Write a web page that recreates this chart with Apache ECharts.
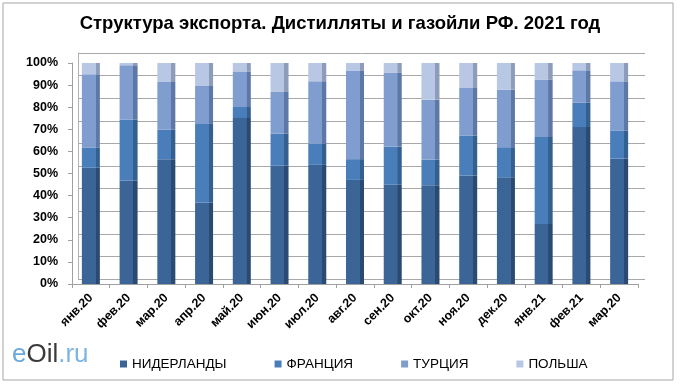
<!DOCTYPE html>
<html><head><meta charset="utf-8">
<script src="https://cdn.jsdelivr.net/npm/echarts@6/dist/echarts.min.js"></script>
<style>html,body{margin:0;padding:0;background:#fff}#c{width:680px;height:384px}</style>
</head><body><div id="c"></div>
<script>
var categories = ['янв.20','фев.20','мар.20','апр.20','май.20','июн.20','июл.20','авг.20','сен.20','окт.20','ноя.20','дек.20','янв.21','фев.21','мар.20'];
var seriesNames = ['НИДЕРЛАНДЫ','ФРАНЦИЯ','ТУРЦИЯ','ПОЛЬША'];
var netherlands = [52.6,46.8,56.5,36.9,75.1,53.6,53.9,47.1,44.9,44.7,49.1,48.3,27.2,71.0,56.7];
var france      = [ 9.1,27.5,13.3,35.8, 5.0,14.4, 9.6, 9.4,17.3,11.5,18.1,13.6,39.3,11.0,12.8];
var turkey      = [33.2,24.7,21.6,16.9,16.1,18.9,28.2,39.9,33.3,27.2,21.5,26.0,26.0,14.7,22.2];
var poland      = [ 5.1, 1.0, 8.6,10.4, 3.8,13.1, 8.3, 3.6, 4.5,16.6,11.3,12.1, 7.5, 3.3, 8.3];
var yTicks = ['0%','10%','20%','30%','40%','50%','60%','70%','80%','90%','100%'];

var colors = [['#3b6497','#2a4a72'],['#4a7ebb','#34608f'],['#809dcf','#5d78a6'],['#b8c7e4','#8c9cb9']];
function grad(c){
  return {type:'linear',x:0,y:0,x2:1,y2:0,colorStops:[
    {offset:0,color:c[0]},{offset:0.76,color:c[0]},{offset:0.77,color:c[1]},{offset:1,color:c[1]}]};
}
var dataSets = [netherlands, france, turkey, poland];
var series = dataSets.map(function(d,i){
  return {name:seriesNames[i], type:'bar', stack:'s', xAxisIndex:0, yAxisIndex:0,
    barWidth:18, data:d.map(function(v){return v/100;}),
    itemStyle:{color:grad(colors[i])}};
});
series.push({type:'bar', xAxisIndex:1, yAxisIndex:1, data:[], silent:true});

var chart = echarts.init(document.getElementById('c'), null, {renderer:'canvas'});
chart.setOption({
  animation:false,
  title:{text:'Структура экспорта. Дистилляты и газойли РФ. 2021 год', left:'center', top:9,
    textStyle:{fontFamily:'Liberation Sans, Arial', fontWeight:'bold', fontSize:18.5, color:'#000'}},
  legend:{data:seriesNames.map(function(n,i){return {name:n, itemStyle:{color:colors[i][0]}};}),
    left:115, top:352, icon:'rect', itemWidth:7, itemHeight:7, itemGap:48,
    textStyle:{fontFamily:'Liberation Sans, Arial', fontSize:13.5, color:'#000'}},
  graphic:[
    {type:'rect', shape:{x:3,y:3,width:670,height:377}, style:{fill:'none', stroke:'#a6a6a6', lineWidth:1}, z:-1},
    {type:'text', left:12, top:342, style:{rich:{a:{fill:'#6aa8db',font:'26px Liberation Sans, Arial'},b:{fill:'#3a3a3a',font:'26px Liberation Sans, Arial'},c:{fill:'#7fb5e2',font:'26px Liberation Sans, Arial'}}, text:'{a|e}{b|Oil}{c|.ru}'}}
  ],
  grid:[
    {left:72, right:42, top:63, bottom:100},
    {left:78, right:35, top:53, bottom:105}
  ],
  xAxis:[
    {type:'category', gridIndex:0, data:categories,
      axisLine:{show:true, lineStyle:{color:'#a0a0a0'}},
      axisTick:{show:true, length:4, lineStyle:{color:'#a0a0a0'}},
      axisLabel:{rotate:45, margin:12, fontFamily:'Liberation Sans, Arial', fontWeight:'bold', fontSize:12.5, color:'#000'}},
    {type:'category', gridIndex:1, data:categories, show:false}
  ],
  yAxis:[
    {type:'value', gridIndex:0, min:0, max:1, interval:0.1,
      axisLine:{show:true, lineStyle:{color:'#a0a0a0'}},
      axisTick:{show:true, length:4, lineStyle:{color:'#a0a0a0'}},
      splitLine:{show:false},
      axisLabel:{margin:14, fontFamily:'Liberation Sans, Arial', fontWeight:'bold', fontSize:12.5, color:'#000',
        formatter:function(v){return yTicks[Math.round(v*10)];}}},
    {type:'value', gridIndex:1, min:0, max:1, interval:0.1,
      axisLine:{show:true, lineStyle:{color:'#b0b0b0'}}, axisTick:{show:false}, axisLabel:{show:false},
      splitLine:{show:true, lineStyle:{color:'#a8a8a8', width:1}}}
  ],
  series:series
});
</script></body></html>
